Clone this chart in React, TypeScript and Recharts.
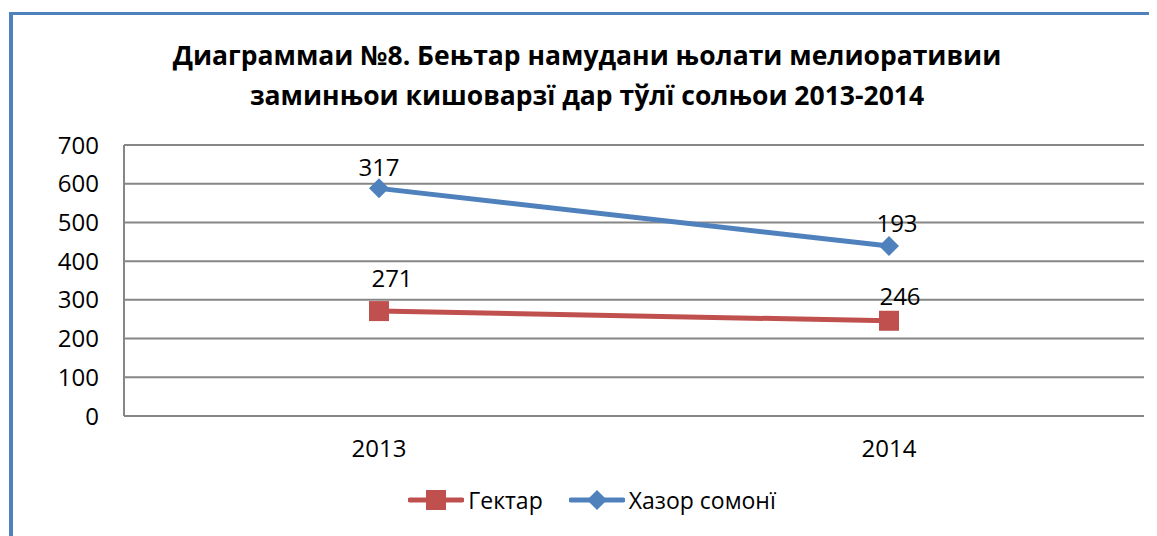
import React from 'react';
import { ComposedChart, Area, XAxis, YAxis, CartesianGrid, LabelList } from 'recharts';

const years = ['2013', '2014'];
const hectares = [271, 246];
const thousandSomoni = [317, 193];
const yTicks = [0, 100, 200, 300, 400, 500, 600, 700];
const seriesNames = ['Гектар', 'Хазор сомонї'];
const titleLines = [
  'Диаграммаи №8. Бењтар намудани њолати мелиоративии',
  'заминњои кишоварзї дар тўлї солњои 2013-2014',
];

const data = years.map((year, i) => ({ year, hectares: hectares[i], somoni: thousandSomoni[i] }));

const RED = '#C0504D';
const BLUE = '#4F81BD';
const GRID = '#868686';
const FONT = '"Open Sans", sans-serif';

const redLabelOffsets = [[13, -34], [11, -25]];
const blueLabelOffsets = [[0, -22], [8, -24]];

const SquareDot = (props: any) => {
  const { cx, cy } = props;
  if (cx == null || cy == null) return null;
  return <rect x={cx - 10} y={cy - 10} width={20} height={20} fill={RED} />;
};

const DiamondDot = (props: any) => {
  const { cx, cy } = props;
  if (cx == null || cy == null) return null;
  return <polygon points={`${cx - 10},${cy} ${cx},${cy - 10} ${cx + 10},${cy} ${cx},${cy + 10}`} fill={BLUE} />;
};

const makeLabel = (offsets: number[][]) => (props: any) => {
  const x = props.x ?? props.viewBox?.x;
  const y = props.y ?? props.viewBox?.y;
  const idx = props.index ?? 0;
  const [dx, dy] = offsets[idx] || [0, -24];
  if (x == null || y == null) return null;
  return (
    <text x={x + dx} y={y + dy} textAnchor="middle" dominantBaseline="central" fontSize={24} fontFamily={FONT} fill="#000">
      {props.value}
    </text>
  );
};

const LegendIcon = ({ color, shape }: { color: string; shape: 'square' | 'diamond' }) => (
  <svg width={56} height={24} style={{ display: 'block' }}>
    <line x1={2} y1={12} x2={54} y2={12} stroke={color} strokeWidth={5} strokeLinecap="round" />
    {shape === 'square' ? (
      <rect x={18} y={2} width={20} height={20} fill={color} />
    ) : (
      <polygon points="18,12 28,2 38,12 28,22" fill={color} />
    )}
  </svg>
);

export default function App() {
  return (
    <div style={{ position: 'relative', width: 1149, height: 528, fontFamily: FONT, background: '#fff' }}>
      <div
        style={{
          position: 'absolute',
          left: 1,
          top: 4,
          right: 0,
          bottom: 0,
          borderLeft: `4px solid ${BLUE}`,
          borderTop: `3px solid ${BLUE}`,
        }}
      />
      <div
        style={{
          position: 'absolute',
          top: 27,
          left: 4,
          width: 1150,
          textAlign: 'center',
          fontWeight: 700,
          fontSize: 26.5,
          lineHeight: '40px',
          color: '#000',
          whiteSpace: 'nowrap',
        }}
      >
        {titleLines.map((t) => (
          <div key={t}>{t}</div>
        ))}
      </div>
      <div style={{ position: 'absolute', left: 0, top: 0 }}>
        <ComposedChart width={1149} height={528} data={data} margin={{ top: 137, right: 13, bottom: 90, left: 36 }}>
          <CartesianGrid vertical={false} stroke={GRID} strokeWidth={2} />
          <XAxis
            dataKey="year"
            scale="band"
            height={30}
            axisLine={{ stroke: GRID, strokeWidth: 2 }}
            tickLine={false}
            tickSize={6}
            tickMargin={18}
            tick={{ fontSize: 24, fontFamily: FONT, fill: '#000' }}
          />
          <YAxis
            width={80}
            domain={[0, 700]}
            ticks={yTicks}
            interval={0}
            axisLine={{ stroke: GRID, strokeWidth: 2 }}
            tickLine={false}
            tickSize={6}
            tickMargin={19}
            tick={{ fontSize: 24, fontFamily: FONT, fill: '#000' }}
          />
          <Area
            type="linear"
            dataKey="hectares"
            name={seriesNames[0]}
            stackId="s"
            stroke={RED}
            strokeWidth={5}
            fill="none"
            fillOpacity={0}
            dot={<SquareDot />}
            activeDot={false}
            isAnimationActive={false}
          >
            <LabelList dataKey="hectares" content={makeLabel(redLabelOffsets)} />
          </Area>
          <Area
            type="linear"
            dataKey="somoni"
            name={seriesNames[1]}
            stackId="s"
            stroke={BLUE}
            strokeWidth={5}
            fill="none"
            fillOpacity={0}
            dot={<DiamondDot />}
            activeDot={false}
            isAnimationActive={false}
          >
            <LabelList dataKey="somoni" content={makeLabel(blueLabelOffsets)} />
          </Area>
        </ComposedChart>
      </div>
      <div
        style={{
          position: 'absolute',
          top: 478,
          left: 0,
          width: 1168,
          display: 'flex',
          justifyContent: 'center',
          alignItems: 'center',
          fontSize: 23,
          lineHeight: '28px',
          color: '#000',
        }}
      >
        <div style={{ display: 'flex', alignItems: 'center', marginRight: 26 }}>
          <LegendIcon color={RED} shape="square" />
          <span style={{ marginLeft: 4 }}>{seriesNames[0]}</span>
        </div>
        <div style={{ display: 'flex', alignItems: 'center' }}>
          <LegendIcon color={BLUE} shape="diamond" />
          <span style={{ marginLeft: 4 }}>{seriesNames[1]}</span>
        </div>
      </div>
    </div>
  );
}
